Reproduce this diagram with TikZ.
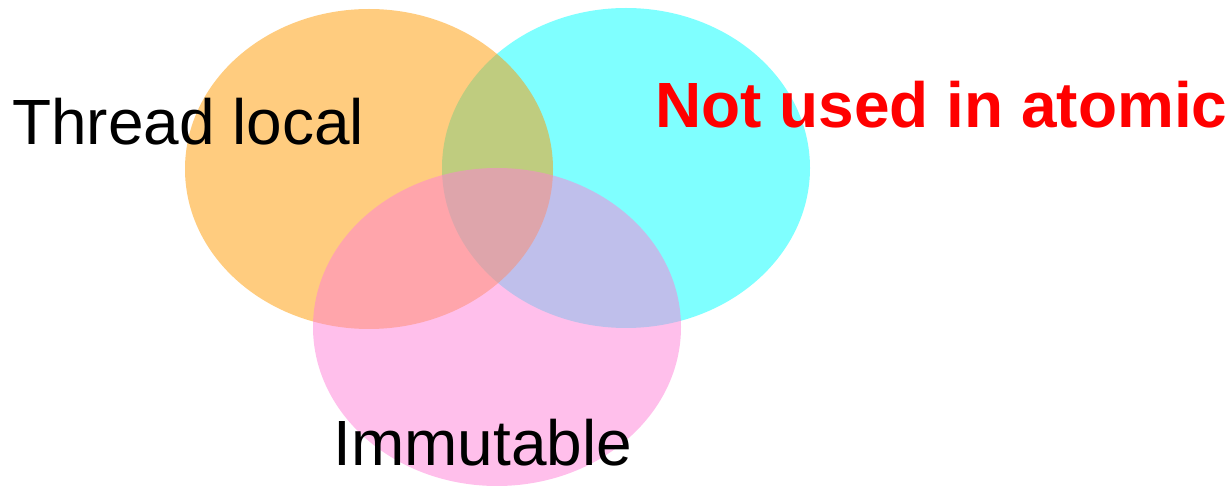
\documentclass[tikz,border=0pt]{standalone}
\usepackage{fontspec}
\setmainfont{Liberation Sans}
\definecolor{tlorange}{RGB}{255,153,0}
\definecolor{nacyan}{RGB}{0,255,255}
\definecolor{impink}{RGB}{255,128,215}
\definecolor{nared}{RGB}{255,0,0}

\begin{document}
\begin{tikzpicture}[x=0.02cm,y=-0.02cm,
  setfill/.style={fill=#1,fill opacity=0.5},
  setlabel/.style={inner sep=0pt,anchor=base west,font=\fontsize{36.4}{44}\selectfont}]
\useasboundingbox (0,0) rectangle (1231,486);
\fill[setfill=nacyan] (626,168) ellipse [x radius=184,y radius=160];
\fill[setfill=tlorange] (369,169) ellipse [x radius=184,y radius=160];
\fill[setfill=impink] (497,327) ellipse [x radius=184,y radius=159];
\node[setlabel] (threadlocal) at (12,145) {Thread local};
\node[setlabel,text=nared,font=\fontsize{36.4}{44}\selectfont\bfseries] (notatomic) at (655,128) {Not used in atomic};
\node[setlabel] (immutable) at (333,465) {Immutable};
\end{tikzpicture}
\end{document}
